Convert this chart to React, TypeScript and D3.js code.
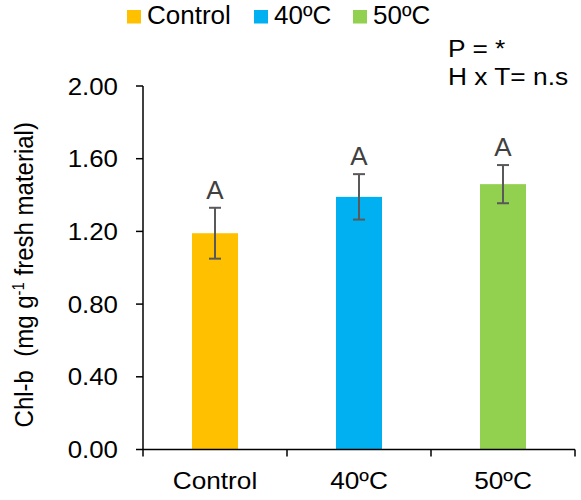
import React from 'react';
import * as d3 from 'd3';

const categories = ['Control', '40ºC', '50ºC'];
const means = [1.19, 1.39, 1.46];
const errors = [0.14, 0.125, 0.105];
const letters = ['A', 'A', 'A'];
const colors = ['#FFC000', '#00B0F0', '#92D050'];
const yTicks = [0, 0.4, 0.8, 1.2, 1.6, 2.0];
const notes = ['P = *', 'H x T= n.s'];

const W = 581;
const H = 500;
const FONT = 'Liberation Sans, Arial, sans-serif';

// text that is a little wider than the font (the source picture is stretched sideways)
function T({ x, y, size, sx = 1, anchor = 'start', fill = '#000', children }: any) {
  return (
    <text
      transform={`translate(${x},${y}) scale(${sx},1)`}
      textAnchor={anchor}
      fontFamily={FONT}
      fontSize={size}
      fill={fill}
    >
      {children}
    </text>
  );
}

export default function App() {
  const left = 143;
  const right = 575;
  const top = 86;
  const bottom = 449.5;

  const x = d3.scaleBand<string>().domain(categories).range([left, right]);
  const y = d3.scaleLinear().domain([0, 2]).range([bottom, top]);
  const fmt = d3.format('.2f');
  const barW = 46;
  const cap = 6;

  const boundaries = [left, ...categories.map((c) => (x(c) as number) + x.bandwidth())];
  const legendX = [127, 254, 353];

  return (
    <div style={{ position: 'absolute', left: 0, top: 0 }}>
      <svg width={W} height={H} viewBox={`0 0 ${W} ${H}`} style={{ display: 'block', background: '#fff' }}>
        {/* legend */}
        {categories.map((c, i) => (
          <g key={c}>
            <rect x={legendX[i]} y={10} width={14} height={13.5} fill={colors[i]} />
            <T x={legendX[i] + 20} y={24} size={25} sx={1.04}>{c}</T>
          </g>
        ))}

        {/* stats note */}
        {notes.map((n, i) => (
          <T key={n} x={448} y={56.5 + i * 28.5} size={23.5} sx={1.12}>{n}</T>
        ))}

        {/* bars */}
        {categories.map((c, i) => {
          const cx = (x(c) as number) + x.bandwidth() / 2;
          const yHi = y(means[i] + errors[i]);
          const yLo = y(means[i] - errors[i]);
          return (
            <g key={c}>
              <rect x={cx - barW / 2} y={y(means[i])} width={barW} height={bottom - y(means[i])} fill={colors[i]} />
              <g stroke="#595959" strokeWidth={2}>
                <line x1={cx} x2={cx} y1={yHi} y2={yLo} />
                <line x1={cx - cap} x2={cx + cap} y1={yHi} y2={yHi} />
                <line x1={cx - cap} x2={cx + cap} y1={yLo} y2={yLo} />
              </g>
              <T x={cx} y={yHi - 9} size={25} sx={1.04} anchor="middle" fill="#404040">{letters[i]}</T>
            </g>
          );
        })}

        {/* y axis */}
        <g stroke="#000" strokeWidth={1.5}>
          <line x1={left} x2={left} y1={top} y2={bottom} />
          {yTicks.map((t) => (
            <line key={t} x1={left - 7} x2={left} y1={y(t)} y2={y(t)} />
          ))}
        </g>
        {yTicks.map((t) => (
          <T key={t} x={left - 25} y={y(t) + 8.5} size={23.5} sx={1.1} anchor="end">
            {fmt(t)}
          </T>
        ))}

        {/* x axis */}
        <g stroke="#000" strokeWidth={1.5}>
          <line x1={left} x2={right} y1={bottom} y2={bottom} />
          {boundaries.map((b, i) => (
            <line key={i} x1={b} x2={b} y1={bottom} y2={bottom + 7} />
          ))}
        </g>
        {categories.map((c) => (
          <T key={c} x={(x(c) as number) + x.bandwidth() / 2} y={489} size={24.5} sx={1.07} anchor="middle">
            {c}
          </T>
        ))}

        {/* y axis title */}
        <text
          transform={`translate(33, ${(top + bottom) / 2 + 7}) rotate(-90) scale(1,1.1)`}
          textAnchor="middle"
          fontFamily={FONT}
          fontSize={24}
          fill="#000"
        >
          Chl-b{'\u00a0\u00a0'}(mg g<tspan dy={-8} fontSize={15}>-1</tspan><tspan dy={8}> fresh material)</tspan>
        </text>
      </svg>
    </div>
  );
}
